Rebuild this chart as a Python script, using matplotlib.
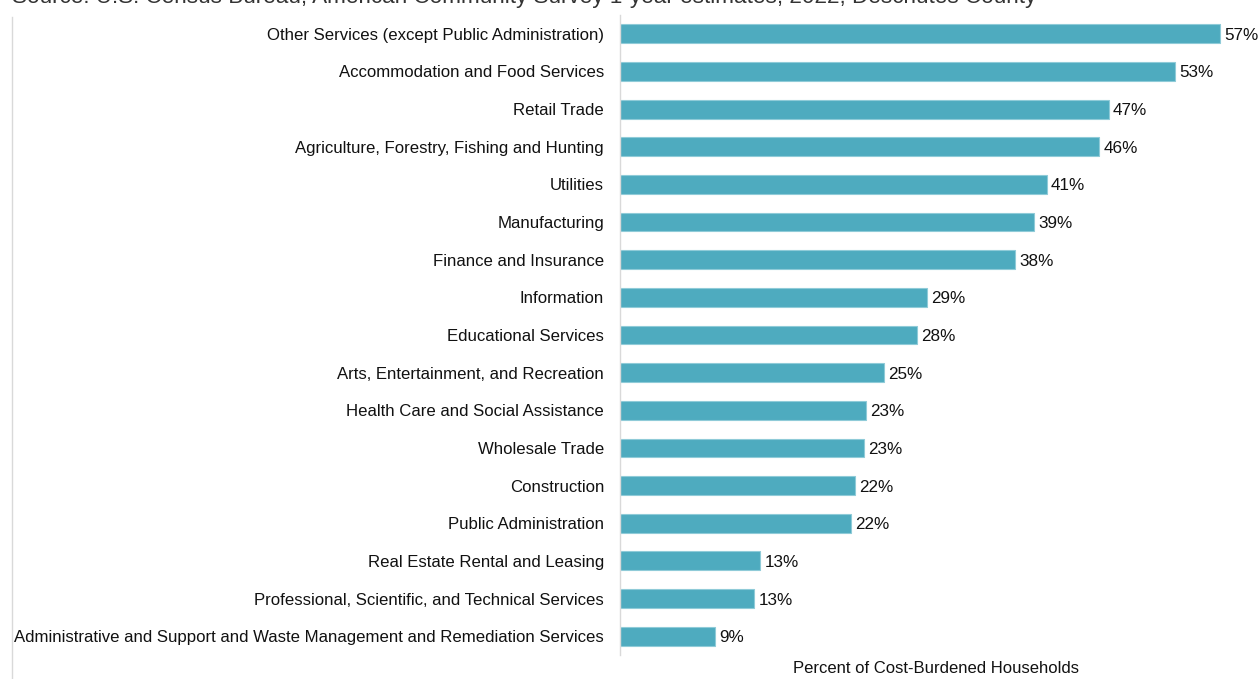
import matplotlib.pyplot as plt
from matplotlib.lines import Line2D

industries = [
    "Other Services (except Public Administration)",
    "Accommodation and Food Services",
    "Retail Trade",
    "Agriculture, Forestry, Fishing and Hunting",
    "Utilities",
    "Manufacturing",
    "Finance and Insurance",
    "Information",
    "Educational Services",
    "Arts, Entertainment, and Recreation",
    "Health Care and Social Assistance",
    "Wholesale Trade",
    "Construction",
    "Public Administration",
    "Real Estate Rental and Leasing",
    "Professional, Scientific, and Technical Services",
    "Administrative and Support and Waste Management and Remediation Services",
]
# labels show rounded values
pct = [57.14, 52.86, 46.55, 45.62, 40.64, 39.46, 37.62, 29.27, 28.26, 25.17,
       23.43, 23.27, 22.38, 22.0, 13.36, 12.79, 9.05]

source = "Source: U.S. Census Bureau, American Community Survey 1-year estimates, 2022, Deschutes County"

plt.rcParams['font.family'] = ['Liberation Sans', 'DejaVu Sans']

fig = plt.figure(figsize=(12.6, 6.79), dpi=100)
ax = fig.add_axes([620 / 1260, 1 - 655 / 679, 631.6 / 1260, 640 / 679])

y = list(range(len(industries)))
ax.barh(y, pct, height=0.5, color='#4EABBF', edgecolor='#8FCBD8', linewidth=0.8)
ax.set_ylim(len(industries) - 0.5, -0.5)
ax.set_xlim(0, 631.6 / 10.5)
ax.set_yticks(y)
ax.set_yticklabels(industries, fontsize=12.1, color='#111111')
ax.tick_params(axis='y', length=0, pad=11.5)
ax.set_xticks([])

for i, v in enumerate(pct):
    ax.text(v + 0.4, i + 0.04, f"{round(v)}%", va='center', ha='left', fontsize=12.3, color='#111111')

for s in ['top', 'right', 'bottom']:
    ax.spines[s].set_visible(False)
ax.spines['left'].set_color('#d9d9d9')
ax.spines['left'].set_linewidth(1)

ax.set_xlabel("Percent of Cost-Burdened Households", fontsize=12, color='#111111', labelpad=4)

fig.add_artist(Line2D([12 / 1260, 12 / 1260], [0, 1 - 17 / 679], color='#d9d9d9', linewidth=1))
fig.text(12 / 1260, 1 - 3 / 679, source, fontsize=16.2, color='#333333', va='baseline', ha='left')

fig.savefig('out.png', dpi=100)
